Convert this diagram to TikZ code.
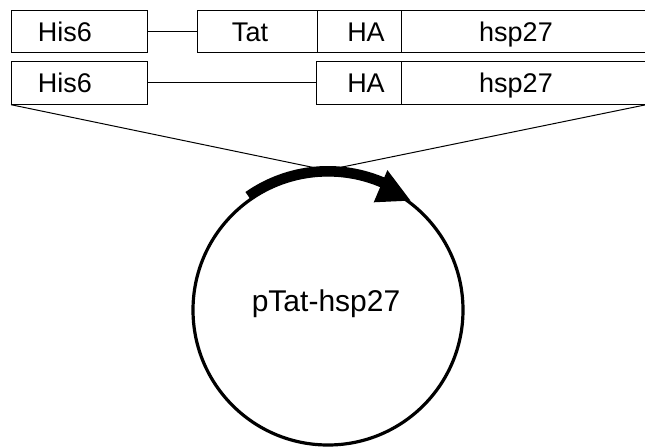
\documentclass[tikz,border=0pt]{standalone}
\usepackage{fontspec}
\setmainfont{Liberation Sans}
\begin{document}
\begin{tikzpicture}[x=1pt,y=-1pt,
  seg/.style={draw, line width=1.2pt, inner sep=0pt, anchor=north west, minimum height=42.5},
  segtext/.style={anchor=base, inner sep=0pt, font=\fontsize{27}{28}\selectfont},
  conn/.style={line width=1.2pt},
  fan/.style={line width=1pt}]
\useasboundingbox (0,0) rectangle (645,447);
% row 1
\node[seg, minimum width=136] (his1) at (11,9.5) {};
\node[seg, minimum width=120] (tat1) at (197,9.5) {};
\node[seg, minimum width=84] (ha1) at (317,9.5) {};
\node[seg, minimum width=246] (hsp1) at (401,9.5) {};
\draw[conn] (his1.east) -- (tat1.west);
\node[segtext] (t1) at (65,41) {His6};
\node[segtext] (t2) at (250,41) {Tat};
\node[segtext] (t3) at (366,41) {HA};
\node[segtext] (t4) at (516,41) {hsp27};
% row 2
\node[seg, minimum width=136] (his2) at (11,61) {};
\node[seg, minimum width=85] (ha2) at (316,61) {};
\node[seg, minimum width=244] (hsp2) at (401,61) {};
\draw[conn] (his2.east) -- (ha2.west);
\node[segtext] (u1) at (65,92.5) {His6};
\node[segtext] (u3) at (366,92.5) {HA};
\node[segtext] (u4) at (516,92.5) {hsp27};
% plasmid
\node[circle, draw, line width=3.2pt, minimum size=270, inner sep=0pt] (pl) at (328,310) {};
\node[anchor=base, inner sep=0pt, font=\fontsize{30}{31}\selectfont] (lab) at (326,311.5) {pTat-hsp27};
\coordinate (fl) at (340,173);
\coordinate (fr) at (313,173);
\draw[fan] (his2.south west) -- (fl);
\draw[fan] (hsp2.south east) -- (fr);
% thick arc with arrowhead
\coordinate (as) at ([shift={(-125:139)}]pl.center);
\coordinate (ho) at ([shift={(-67:152)}]pl.center);
\coordinate (hi) at ([shift={(-67:117)}]pl.center);
\coordinate (ht) at ([shift={(-53:137)}]pl.center);
\draw[line width=10pt] (as) arc[start angle=-125, end angle=-65.5, radius=139];
\fill (ho) -- (ht) -- (hi) -- cycle;
\end{tikzpicture}
\end{document}
